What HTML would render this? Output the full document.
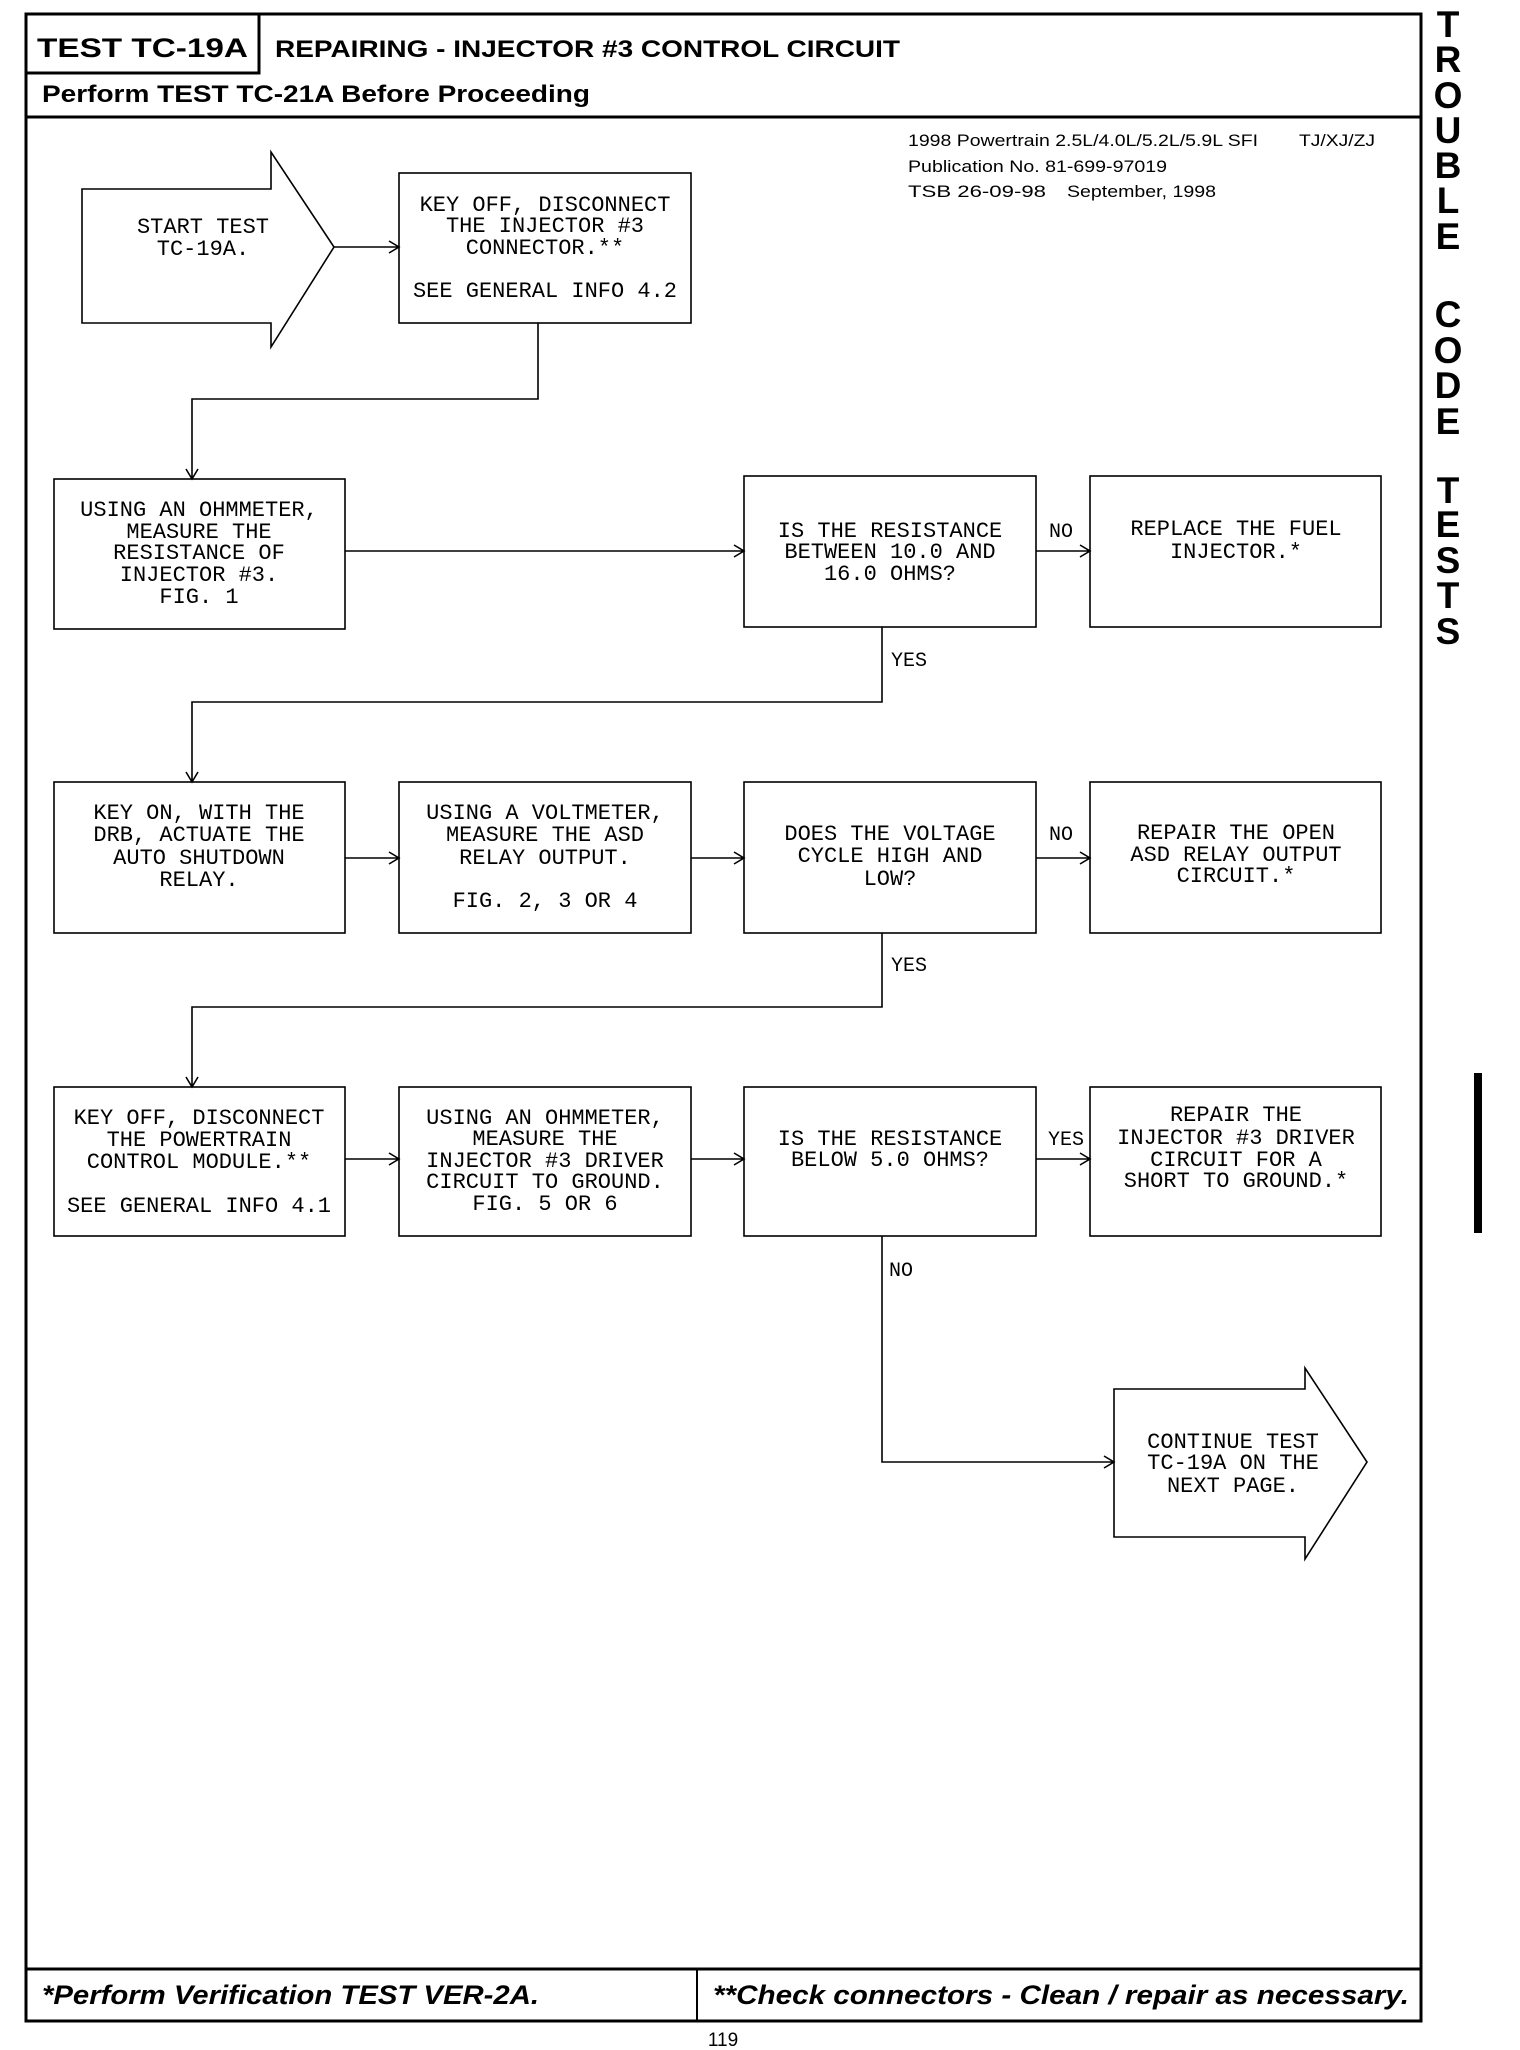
<!DOCTYPE html>
<html><head><meta charset="utf-8"><style>html,body{margin:0;padding:0;background:#fff}svg{display:block}</style></head>
<body>
<svg width="1520" height="2050" viewBox="0 0 1520 2050" xmlns="http://www.w3.org/2000/svg">
<g fill="none" stroke="#000">
<rect x="26" y="14" width="1395" height="2007" stroke-width="3"/>
<rect x="26" y="14" width="233" height="59" stroke-width="3"/>
<line x1="26" y1="117" x2="1421" y2="117" stroke-width="3"/>
<line x1="26" y1="1969" x2="1421" y2="1969" stroke-width="3"/>
<line x1="697" y1="1969" x2="697" y2="2021" stroke-width="2"/>
</g>
<rect x="1474" y="1073" width="8" height="160" fill="#000"/>
<g font-family="Liberation Sans, Arial, sans-serif" font-weight="bold" fill="#000">
<text x="37" y="57" font-size="27" textLength="211" lengthAdjust="spacingAndGlyphs">TEST TC-19A</text>
<text x="275" y="57" font-size="24" textLength="625" lengthAdjust="spacingAndGlyphs">REPAIRING - INJECTOR #3 CONTROL CIRCUIT</text>
<text x="42" y="102" font-size="24" textLength="548" lengthAdjust="spacingAndGlyphs">Perform TEST TC-21A Before Proceeding</text>
<g font-style="italic" font-size="27">
<text x="42" y="2004" textLength="497" lengthAdjust="spacingAndGlyphs">*Perform Verification TEST VER-2A.</text>
<text x="713" y="2004" textLength="696" lengthAdjust="spacingAndGlyphs">**Check connectors - Clean / repair as necessary.</text>
</g>
<g font-size="37" text-anchor="middle">
<text x="1448" y="37">T</text><text x="1448" y="72">R</text><text x="1448" y="108">O</text><text x="1448" y="143">U</text><text x="1448" y="178">B</text><text x="1448" y="213">L</text><text x="1448" y="249">E</text>
<text x="1448" y="327">C</text><text x="1448" y="363">O</text><text x="1448" y="398">D</text><text x="1448" y="434">E</text>
<text x="1448" y="503">T</text><text x="1448" y="537">E</text><text x="1448" y="573">S</text><text x="1448" y="608">T</text><text x="1448" y="644">S</text>
</g>
</g>
<g font-family="Liberation Sans, Arial, sans-serif" font-size="17" fill="#000">
<text x="908" y="146" textLength="350" lengthAdjust="spacingAndGlyphs">1998 Powertrain 2.5L/4.0L/5.2L/5.9L SFI</text>
<text x="1299" y="146" textLength="76" lengthAdjust="spacingAndGlyphs">TJ/XJ/ZJ</text>
<text x="908" y="172" textLength="259" lengthAdjust="spacingAndGlyphs">Publication No. 81-699-97019</text>
<text x="908" y="197" textLength="138" lengthAdjust="spacingAndGlyphs">TSB 26-09-98</text>
<text x="1067" y="197" textLength="149" lengthAdjust="spacingAndGlyphs">September, 1998</text>
<text x="723" y="2046" font-size="19" text-anchor="middle">119</text>
</g>
<g fill="none" stroke="#000" stroke-width="1.6">
<path d="M82,189 H271 V152 L334,247 L271,347 V323 H82 Z"/>
<rect x="399" y="173" width="292" height="150"/>
<rect x="54" y="479" width="291" height="150"/>
<rect x="744" y="476" width="292" height="151"/>
<rect x="1090" y="476" width="291" height="151"/>
<rect x="54" y="782" width="291" height="151"/>
<rect x="399" y="782" width="292" height="151"/>
<rect x="744" y="782" width="292" height="151"/>
<rect x="1090" y="782" width="291" height="151"/>
<rect x="54" y="1087" width="291" height="149"/>
<rect x="399" y="1087" width="292" height="149"/>
<rect x="744" y="1087" width="292" height="149"/>
<rect x="1090" y="1087" width="291" height="149"/>
<path d="M1114,1389 H1305 V1368 L1367,1462 L1305,1559 V1537 H1114 Z"/>
<path d="M334,247 H399 M389,241 L399,247 L389,253"/>
<path d="M538,323 V399 H192 V479 M186,469 L192,479 L198,469"/>
<path d="M345,551 H744 M734,545 L744,551 L734,557"/>
<path d="M1036,551 H1090 M1080,545 L1090,551 L1080,557"/>
<path d="M882,627 V702 H192 V782 M186,772 L192,782 L198,772"/>
<path d="M345,858 H399 M389,852 L399,858 L389,864"/>
<path d="M691,858 H744 M734,852 L744,858 L734,864"/>
<path d="M1036,858 H1090 M1080,852 L1090,858 L1080,864"/>
<path d="M882,933 V1007 H192 V1087 M186,1077 L192,1087 L198,1077"/>
<path d="M345,1159 H399 M389,1153 L399,1159 L389,1165"/>
<path d="M691,1159 H744 M734,1153 L744,1159 L734,1165"/>
<path d="M1036,1159 H1090 M1080,1153 L1090,1159 L1080,1165"/>
<path d="M882,1236 V1462 H1114 M1104,1456 L1114,1462 L1104,1468"/>
</g>
<g font-family="Liberation Mono, DejaVu Sans Mono, monospace" font-size="22" fill="#000" text-anchor="middle">
<text x="203" y="233">START TEST</text><text x="203" y="255">TC-19A.</text>
<text x="545" y="211">KEY OFF, DISCONNECT</text><text x="545" y="232">THE INJECTOR #3</text><text x="545" y="254">CONNECTOR.**</text><text x="545" y="297">SEE GENERAL INFO 4.2</text>
<text x="199" y="516">USING AN OHMMETER,</text><text x="199" y="538">MEASURE THE</text><text x="199" y="559">RESISTANCE OF</text><text x="199" y="581">INJECTOR #3.</text><text x="199" y="603">FIG. 1</text>
<text x="890" y="537">IS THE RESISTANCE</text><text x="890" y="558">BETWEEN 10.0 AND</text><text x="890" y="580">16.0 OHMS?</text>
<text x="1236" y="535">REPLACE THE FUEL</text><text x="1236" y="558">INJECTOR.*</text>
<text x="199" y="819">KEY ON, WITH THE</text><text x="199" y="841">DRB, ACTUATE THE</text><text x="199" y="864">AUTO SHUTDOWN</text><text x="199" y="886">RELAY.</text>
<text x="545" y="819">USING A VOLTMETER,</text><text x="545" y="841">MEASURE THE ASD</text><text x="545" y="864">RELAY OUTPUT.</text><text x="545" y="907">FIG. 2, 3 OR 4</text>
<text x="890" y="840">DOES THE VOLTAGE</text><text x="890" y="862">CYCLE HIGH AND</text><text x="890" y="885">LOW?</text>
<text x="1236" y="839">REPAIR THE OPEN</text><text x="1236" y="861">ASD RELAY OUTPUT</text><text x="1236" y="882">CIRCUIT.*</text>
<text x="199" y="1124">KEY OFF, DISCONNECT</text><text x="199" y="1146">THE POWERTRAIN</text><text x="199" y="1168">CONTROL MODULE.**</text><text x="199" y="1212">SEE GENERAL INFO 4.1</text>
<text x="545" y="1124">USING AN OHMMETER,</text><text x="545" y="1145">MEASURE THE</text><text x="545" y="1167">INJECTOR #3 DRIVER</text><text x="545" y="1188">CIRCUIT TO GROUND.</text><text x="545" y="1210">FIG. 5 OR 6</text>
<text x="890" y="1145">IS THE RESISTANCE</text><text x="890" y="1166">BELOW 5.0 OHMS?</text>
<text x="1236" y="1121">REPAIR THE</text><text x="1236" y="1144">INJECTOR #3 DRIVER</text><text x="1236" y="1166">CIRCUIT FOR A</text><text x="1236" y="1187">SHORT TO GROUND.*</text>
<text x="1233" y="1448">CONTINUE TEST</text><text x="1233" y="1469">TC-19A ON THE</text><text x="1233" y="1492">NEXT PAGE.</text>
<g text-anchor="start" font-size="20">
<text x="1049" y="537">NO</text>
<text x="891" y="666">YES</text>
<text x="1049" y="840">NO</text>
<text x="891" y="971">YES</text>
<text x="1048" y="1145">YES</text>
<text x="889" y="1276">NO</text>
</g>
</g>
</svg>
</body></html>
